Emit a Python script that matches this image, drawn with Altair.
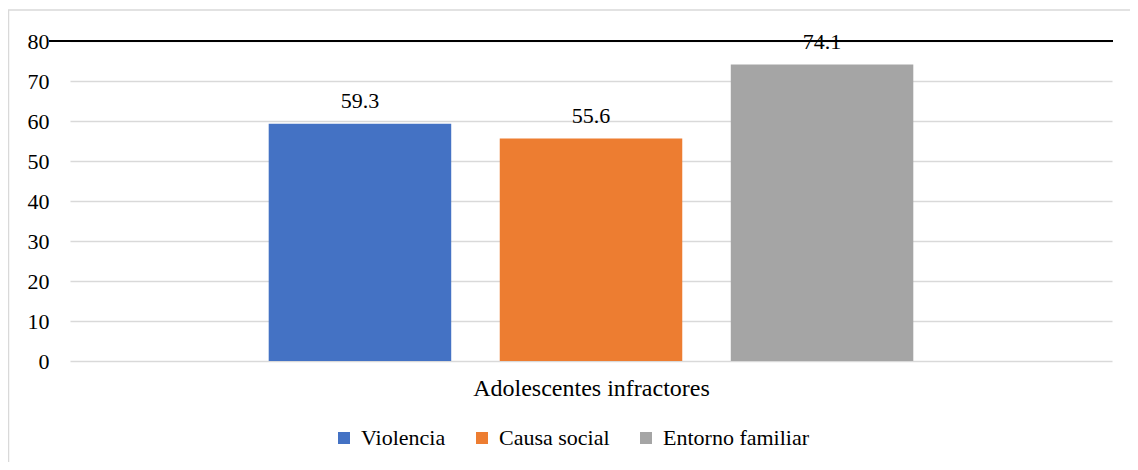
import altair as alt
import pandas as pd

series = ["Violencia", "Causa social", "Entorno familiar"]
values = [59.3, 55.6, 74.1]
colors = ["#4472C4", "#ED7D31", "#A5A5A5"]
group_label = "Adolescentes infractores"
y_ticks = [0, 10, 20, 30, 40, 50, 60, 70, 80]
top_value = [80]

df = pd.DataFrame({"serie": series, "valor": values})
FONT = "Liberation Serif"

y_scale = alt.Scale(domain=[0, 80], nice=False)
y_axis = alt.Axis(values=y_ticks, labelOverlap=False, title=None, ticks=False, domain=False,
                  labelFont=FONT, labelFontSize=22, labelColor="#000000",
                  labelPadding=21, gridColor="#D9D9D9", gridWidth=1.3)
x_scale = alt.Scale(paddingInner=0.21, paddingOuter=0.86)
x_axis = alt.Axis(labels=False, ticks=False, domain=False, grid=False,
                  title=group_label, titleFont=FONT, titleFontSize=24,
                  titleFontWeight="normal", titleColor="#000000", titlePadding=15)

x_enc = alt.X("serie:N", sort=series, scale=x_scale, axis=x_axis)
y_enc = alt.Y("valor:Q", scale=y_scale, axis=y_axis)

base = alt.Chart(df)

frame = alt.Chart(pd.DataFrame({"a": [0]})).mark_rect(
    fillOpacity=0, stroke="#D9D9D9", strokeWidth=1.5
).encode(x=alt.value(-61.5), x2=alt.value(1120), y=alt.value(-31), y2=alt.value(500))

bars = base.mark_bar().encode(
    x=x_enc,
    y=y_enc,
    color=alt.Color(
        "serie:N", sort=series,
        scale=alt.Scale(domain=series, range=colors),
        legend=alt.Legend(title=None, orient="none", direction="horizontal",
                          legendX=263, legendY=386, symbolType="square", symbolSize=144,
                          symbolStrokeWidth=0, labelFont=FONT, labelFontSize=22,
                          labelColor="#000000", columnPadding=25, labelOffset=6, padding=0),
    ),
)

labels = base.mark_text(baseline="alphabetic", dy=-16, font=FONT, fontSize=22, color="#000000").encode(
    x=x_enc, y=y_enc, text=alt.Text("valor:Q", format=".1f")
)

topline = alt.Chart(pd.DataFrame({"valor": top_value})).mark_rule(color="#000000", strokeWidth=2).encode(
    y=y_enc, x=alt.value(-21), x2=alt.value(1043)
)

chart = alt.layer(frame, bars, topline, labels).properties(
    width=1042, height=320,
    padding={"left": 62, "top": 33, "right": 18, "bottom": 101},
    autosize=alt.AutoSizeParams(type="none"),
).configure(
    background="#FFFFFF", font=FONT
).configure_view(
    strokeWidth=0, stroke="transparent"
).configure_axis(
    labelFont=FONT, titleFont=FONT
).configure_legend(
    labelFont=FONT
).configure_text(font=FONT)

chart.save("out.html", embed_options={"renderer": "svg", "actions": False})
